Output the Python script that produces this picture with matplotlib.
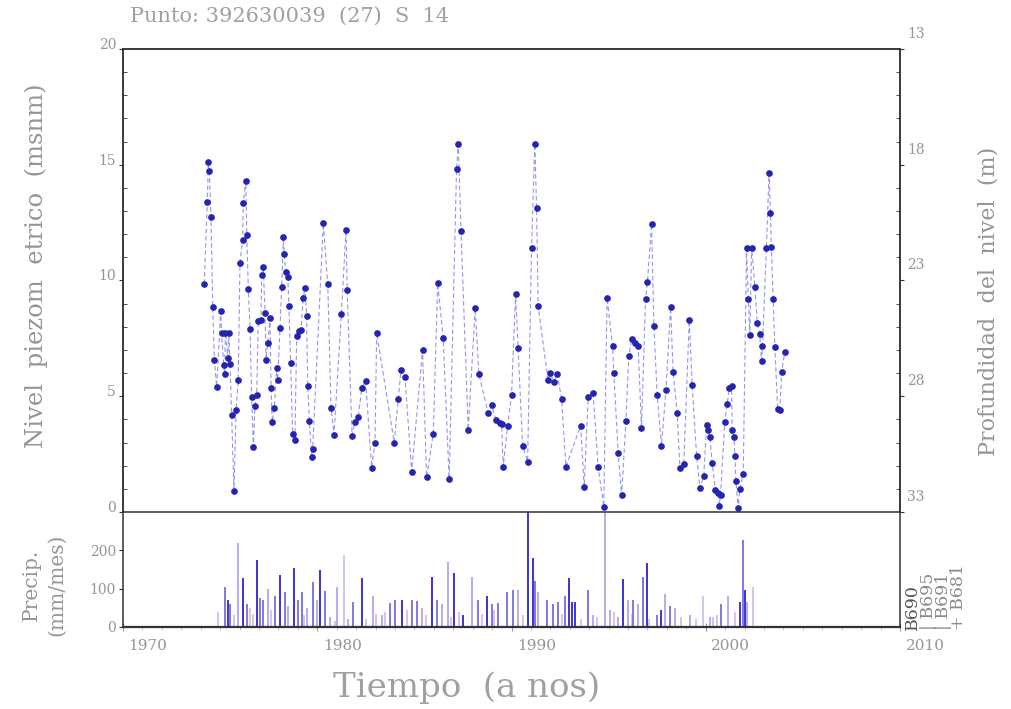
import numpy as np
import matplotlib
matplotlib.use('Agg')
import matplotlib.pyplot as plt
from matplotlib.transforms import ScaledTranslation
from matplotlib.ticker import MultipleLocator

plt.rcParams['font.family'] = ['DejaVu Serif']

# piezometric level (m a.s.l.) at well 392630039
level_years = [
    1974.18, 1974.34, 1974.39, 1974.44, 1974.53, 1974.62, 1974.70, 1974.82, 1975.03, 1975.07,
    1975.19, 1975.23, 1975.27, 1975.40, 1975.44, 1975.51, 1975.59, 1975.71, 1975.82, 1975.93,
    1976.02, 1976.16, 1976.19, 1976.32, 1976.37, 1976.45, 1976.54, 1976.62, 1976.71, 1976.79,
    1976.88, 1976.96, 1977.10, 1977.14, 1977.22, 1977.31, 1977.36, 1977.45, 1977.57, 1977.62,
    1977.68, 1977.79, 1977.91, 1977.96, 1978.08, 1978.17, 1978.25, 1978.30, 1978.37, 1978.48,
    1978.54, 1978.63, 1978.73, 1978.85, 1978.94, 1979.07, 1979.16, 1979.28, 1979.37, 1979.45,
    1979.51, 1979.59, 1979.71, 1979.76, 1980.31, 1980.54, 1980.71, 1980.86, 1981.24, 1981.48,
    1981.54, 1981.79, 1981.94, 1982.11, 1982.29, 1982.49, 1982.80, 1982.97, 1983.06, 1983.96,
    1984.17, 1984.31, 1984.51, 1984.86, 1985.42, 1985.63, 1985.97, 1986.20, 1986.48, 1986.79,
    1987.17, 1987.26, 1987.40, 1987.77, 1988.13, 1988.32, 1988.80, 1988.98, 1989.20, 1989.40,
    1989.49, 1989.57, 1989.80, 1990.00, 1990.21, 1990.34, 1990.57, 1990.83, 1991.03, 1991.20,
    1991.29, 1991.37, 1991.88, 1991.98, 1992.18, 1992.35, 1992.58, 1992.80, 1993.56, 1993.74,
    1993.95, 1994.20, 1994.46, 1994.75, 1994.92, 1995.20, 1995.27, 1995.49, 1995.67, 1995.89,
    1996.04, 1996.18, 1996.35, 1996.52, 1996.69, 1996.90, 1997.00, 1997.21, 1997.33, 1997.50,
    1997.72, 1997.95, 1998.19, 1998.32, 1998.53, 1998.67, 1998.87, 1999.15, 1999.30, 1999.53,
    1999.70, 1999.90, 2000.04, 2000.12, 2000.21, 2000.33, 2000.50, 2000.64, 2000.69, 2000.76,
    2000.98, 2001.10, 2001.21, 2001.33, 2001.36, 2001.45, 2001.50, 2001.55, 2001.67, 2001.75,
    2001.93, 2002.10, 2002.19, 2002.27, 2002.36, 2002.53, 2002.65, 2002.78, 2002.87, 2002.92,
    2003.12, 2003.26, 2003.33, 2003.38, 2003.47, 2003.56, 2003.70, 2003.81, 2003.91, 2004.07,
]
level_msnm = [
    9.86, 13.39, 15.10, 14.73, 12.74, 8.84, 6.58, 5.42, 8.67, 7.75,
    6.33, 5.97, 7.75, 6.67, 7.75, 6.41, 4.20, 0.92, 4.42, 5.68,
    10.77, 11.77, 13.36, 14.30, 11.95, 9.64, 7.92, 4.98, 2.80, 4.59,
    5.05, 8.26, 8.29, 10.24, 10.60, 8.60, 6.58, 7.29, 8.37, 5.34,
    3.89, 4.48, 6.21, 5.70, 7.93, 9.71, 11.87, 11.15, 10.38, 10.15,
    8.89, 6.44, 3.38, 3.09, 7.59, 7.81, 7.88, 9.26, 9.67, 8.45,
    5.45, 3.95, 2.39, 2.71, 12.47, 9.83, 4.49, 3.33, 8.57, 12.18,
    9.57, 3.30, 3.90, 4.10, 5.35, 5.64, 1.92, 2.97, 7.74, 3.00,
    4.88, 6.13, 5.85, 1.74, 7.00, 1.50, 3.36, 9.88, 7.53, 1.44,
    14.80, 15.88, 12.15, 3.55, 8.80, 5.95, 4.27, 4.60, 3.97, 3.86,
    3.80, 1.96, 3.73, 5.05, 9.42, 7.09, 2.87, 2.18, 11.40, 15.90,
    13.12, 8.90, 5.70, 6.02, 5.63, 5.95, 4.89, 1.96, 3.73, 1.07,
    4.96, 5.15, 1.93, 0.23, 9.26, 7.17, 5.99, 2.56, 0.73, 3.93,
    6.74, 7.47, 7.29, 7.17, 3.62, 9.19, 9.95, 12.43, 8.03, 5.05,
    2.85, 5.27, 8.84, 6.06, 4.26, 1.89, 2.06, 8.29, 5.49, 2.42,
    1.02, 1.56, 3.76, 3.54, 3.25, 2.10, 0.95, 0.81, 0.26, 0.73,
    3.90, 4.65, 5.34, 5.44, 3.54, 3.23, 2.42, 1.34, 0.16, 0.98,
    1.64, 11.40, 9.19, 7.65, 11.40, 9.73, 8.15, 7.69, 6.54, 7.18,
    11.40, 14.63, 12.90, 11.43, 9.19, 7.11, 4.44, 4.41, 6.06, 6.93,
]

# monthly precipitation (mm/mes) at the four nearby stations
b690_years = [1975.42, 1976.16, 1976.88, 1978.08, 1978.82, 1980.14, 1982.28, 1984.34, 1985.89,
              1987.05, 1987.51, 1988.72, 1990.86, 1991.09, 1992.97, 1993.09, 1993.26, 1995.75,
              1996.95, 1997.72, 2001.75, 2002.01]
b690_mm = [70, 127, 175, 135, 153, 149, 127, 70, 131,
           140, 30, 80, 300, 179, 127, 65, 65, 125,
           166, 45, 65, 97]

b695_years = [1975.25, 1975.51, 1976.37, 1977.05, 1977.22, 1977.82, 1978.34, 1979.02, 1979.23,
              1979.76, 1980.40, 1981.85, 1983.74, 1984.00, 1984.86, 1985.12, 1986.15, 1988.29,
              1988.98, 1989.32, 1989.75, 1990.09, 1991.20, 1991.81, 1992.15, 1992.40, 1992.75,
              1993.95, 1996.27, 1996.78, 1997.47, 1998.15, 2000.81, 2001.93]
b695_mm = [105, 60, 60, 75, 70, 80, 90, 70, 90,
           118, 95, 65, 62, 70, 70, 68, 70, 70,
           60, 62, 90, 97, 120, 70, 60, 65, 80,
           97, 70, 130, 30, 55, 60, 227]

b691_years = [1975.90, 1977.48, 1978.51, 1979.45, 1979.97, 1980.65, 1981.00, 1981.60, 1982.88,
              1983.31, 1985.37, 1986.40, 1986.71, 1987.95, 1990.35, 1991.37, 1994.17, 1994.81,
              1995.06, 1995.49, 1996.01, 1996.52, 1997.89, 1998.41, 1999.18, 2000.21, 2001.15,
              2002.13]
b691_mm = [218, 100, 55, 50, 70, 25, 105, 20, 80,
           30, 50, 60, 170, 131, 97, 90, 30, 300,
           45, 25, 70, 60, 87, 50, 30, 25, 80,
           65]

b681_years = [1974.90, 1975.70, 1976.54, 1976.70, 1977.60, 1978.10, 1979.30, 1980.90, 1981.39,
              1982.50, 1983.00, 1983.50, 1984.60, 1985.60, 1986.90, 1987.30, 1988.50, 1989.10,
              1990.60, 1992.60, 1993.60, 1994.40, 1995.30, 1996.20, 1997.10, 1998.70, 1999.50,
              1999.87, 2000.38, 2000.60, 2001.50, 2002.41]
b681_mm = [40, 30, 50, 35, 45, 25, 30, 15, 188,
           20, 35, 40, 45, 30, 25, 40, 35, 45,
           30, 35, 20, 25, 40, 35, 20, 25, 20,
           80, 25, 30, 40, 105]

stations = ['B690', 'B695', 'B691', 'B681']
station_colors = ['#3d33d6', '#8078e4', '#b4acee', '#d4c4ee']

year_ticks = [1970, 1980, 1990, 2000, 2010]
level_ticks = [0, 5, 10, 15, 20]
depth_ticks = [13, 18, 23, 28, 33]
precip_ticks = [0, 100, 200]

txt = '#959595'
spine = '#333333'

fig = plt.figure(figsize=(10.11, 7.09), dpi=100)
ax = fig.add_axes([0.1217, 0.2779, 0.7685, 0.6530])
axp = fig.add_axes([0.1217, 0.1157, 0.7685, 0.1622], sharex=ax)

# water level: dashed line plus dots
ax.plot(level_years, level_msnm, ls=(0, (4, 2.5)), lw=0.8, color='#9494ee', zorder=2)
ax.plot(level_years, level_msnm, ls='none', marker='o', ms=3.8, mfc='#2424b0',
        mec='#2424b0', zorder=3)
ax.set_xlim(1970, 2010)
ax.set_ylim(0, 20)
ax.set_yticks(level_ticks)
ax.yaxis.set_minor_locator(MultipleLocator(1))
ax.tick_params(axis='y', which='major', direction='out', length=3, color=spine,
               labelsize=10, labelcolor=txt, pad=2)
ax.tick_params(axis='y', which='minor', direction='in', length=3, color=spine)
ax.tick_params(axis='x', which='both', bottom=False, labelbottom=False)
for lab in ax.get_yticklabels():
    lab.set_transform(lab.get_transform() + ScaledTranslation(0, 4 / 72, fig.dpi_scale_trans))

# depth below ground on the right
axr = ax.twinx()
axr.set_ylim(33, 13)
axr.set_yticks(depth_ticks)
axr.yaxis.set_minor_locator(MultipleLocator(1))
axr.tick_params(axis='y', which='major', direction='out', length=3, color=spine,
                labelsize=10, labelcolor=txt, pad=2)
axr.tick_params(axis='y', which='minor', direction='in', length=3, color=spine)
for lab in axr.get_yticklabels():
    lab.set_transform(lab.get_transform() + ScaledTranslation(0, 12 / 72, fig.dpi_scale_trans))

# precipitation panel
for yrs, mm, c in zip([b681_years, b691_years, b695_years, b690_years],
                      [b681_mm, b691_mm, b695_mm, b690_mm],
                      station_colors[::-1]):
    axp.vlines(yrs, 0, mm, colors=c, lw=1.4, zorder=2)
axp.set_ylim(0, 300)
axp.set_yticks(precip_ticks)
axp.set_xticks(year_ticks)
axp.xaxis.set_minor_locator(MultipleLocator(1))
axp.tick_params(axis='y', direction='out', length=3, color=spine,
                labelsize=10, labelcolor=txt, pad=2)
axp.tick_params(axis='x', which='major', direction='inout', length=6, color='#999999',
                labelsize=11, labelcolor=txt, pad=6)
axp.tick_params(axis='x', which='minor', direction='out', length=2, color='#bbbbbb')
for lab in axp.get_xticklabels():
    lab.set_transform(lab.get_transform() + ScaledTranslation(18 / 72, 0, fig.dpi_scale_trans))

for a in (ax, axr, axp):
    for s in a.spines.values():
        s.set_color(spine)
        s.set_linewidth(1.1)
ax.spines['bottom'].set_linewidth(0.8)
axp.spines['top'].set_visible(False)
axp.spines['bottom'].set_linewidth(1.6)

# titles and axis labels
fig.text(0.129, 0.977, 'Punto: 392630039  (27)  S  14', fontsize=15, color='#a0a0a0',
         ha='left', va='center')
fig.text(0.036, 0.625, 'Nivel  piezom  etrico  (msnm)', fontsize=17.5, color=txt,
         rotation=90, ha='center', va='center')
fig.text(0.031, 0.175, 'Precip.', fontsize=14.5, color=txt, rotation=90,
         ha='center', va='center')
fig.text(0.056, 0.175, '(mm/mes)', fontsize=14.5, color=txt, rotation=90,
         ha='center', va='center')
fig.text(0.978, 0.575, 'Profundidad  del  nivel  (m)', fontsize=16, color=txt,
         rotation=90, ha='center', va='center')
fig.text(0.462, 0.03, 'Tiempo  (a nos)', fontsize=24.5, color='#a0a0a0',
         ha='center', va='center')

# station key, written sideways next to the precipitation panel
key_labels = ['B690', '| B695', '| B691', '+ B681']
key_colors = ['#555555', '#8a8a8a', '#8a8a8a', '#8a8a8a']
for i, (lab, c) in enumerate(zip(key_labels, key_colors)):
    fig.text(0.903 + i * 0.015, 0.112, lab, fontsize=12.5, color=c, rotation=90,
             ha='center', va='bottom')

fig.savefig('out.png', dpi=100)
